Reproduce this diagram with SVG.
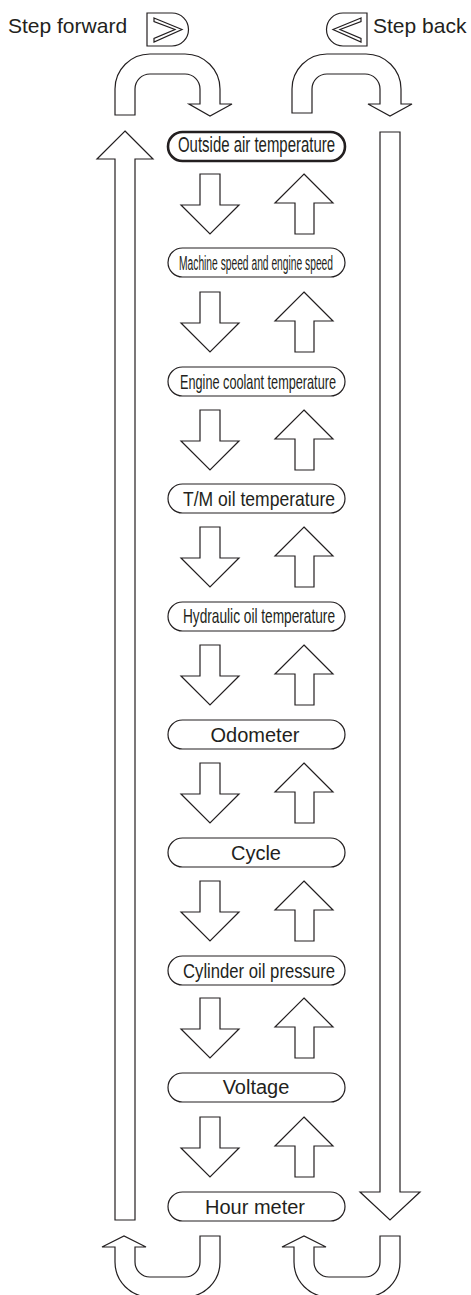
<svg xmlns="http://www.w3.org/2000/svg" xmlns:xlink="http://www.w3.org/1999/xlink" width="471" height="1295" viewBox="0 0 471 1295">
<style>
.ln{fill:#fff;stroke:#231f20;stroke-width:1.2;stroke-linejoin:miter}
.pill{fill:#fff;stroke:#231f20;stroke-width:1.2}
.bold{stroke-width:2.6}
.t{font-family:"Liberation Sans",Arial,sans-serif;fill:#231f20;text-anchor:middle}
.lbl{font-family:"Liberation Sans",Arial,sans-serif;fill:#231f20;font-size:21px}
</style>
<defs>
<path id="dn" d="M200,0 L220,0 L220,31 L239,31 L210,60 L181,31 L200,31 Z"/>
<path id="up" d="M304,0 L333,29 L314,29 L314,60 L295,60 L295,29 L275,29 Z"/>
</defs>
<rect width="471" height="1295" fill="#fff"/>

<g id="step-forward">
<text class="lbl" x="8" y="33">Step forward</text>
<path class="ln" d="M147,13 L172,13 A16.5,16.5 0 0 1 172,46 L147,46 Z"/>
<polygon class="ln" points="154,18 182,29.5 154,42 154,38.5 175,29.5 154,21.5"/>
</g>
<g id="step-back">
<text class="lbl" x="373" y="33">Step back</text>
<path class="ln" d="M367,13 L343,13 A16.5,16.5 0 0 0 343,46 L367,46 Z"/>
<polygon class="ln" points="361,18 333,29.5 361,42 361,38.5 340,29.5 361,21.5"/>
</g>

<g id="connectors">
<path class="ln" d="M115,115 L115,89 A35,35 0 0 1 150,54 L185,54 A35,35 0 0 1 220,89 L220,104 L232,104 L210,116 L189,104 L200,104 L200,89 A15,15 0 0 0 185,74 L150,74 A15,15 0 0 0 135,89 L135,115 Z"/>
<path class="ln" d="M292,113 L292,89 A35,35 0 0 1 327,54 L366,54 A35,35 0 0 1 401,89 L401,104 L412,104 L390,116 L368,104 L380,104 L380,89 A15,15 0 0 0 365,74 L327,74 A15,15 0 0 0 312,89 L312,113 Z"/>
<path class="ln" d="M125,131 L153,159 L135,159 L135,1220 L115,1220 L115,159 L97,159 Z"/>
<path class="ln" d="M380,132 L400,132 L400,1192 L420,1192 L390,1220 L360,1192 L380,1192 Z"/>
<path class="ln" d="M220,1236 L220,1262 A35,35 0 0 1 185,1297 L150,1297 A35,35 0 0 1 115,1262 L115,1247 L102,1247 L124,1236 L146,1247 L135,1247 L135,1262 A15,15 0 0 0 150,1277 L185,1277 A15,15 0 0 0 200,1262 L200,1236 Z"/>
<path class="ln" d="M400,1236 L400,1262 A35,35 0 0 1 365,1297 L329,1297 A35,35 0 0 1 294,1262 L294,1247 L282,1247 L304,1236 L326,1247 L314,1247 L314,1262 A15,15 0 0 0 329,1277 L365,1277 A15,15 0 0 0 380,1262 L380,1236 Z"/>
<use href="#dn" xlink:href="#dn" class="ln" y="174"/><use href="#up" xlink:href="#up" class="ln" y="174"/>
<use href="#dn" xlink:href="#dn" class="ln" y="292"/><use href="#up" xlink:href="#up" class="ln" y="292"/>
<use href="#dn" xlink:href="#dn" class="ln" y="410"/><use href="#up" xlink:href="#up" class="ln" y="410"/>
<use href="#dn" xlink:href="#dn" class="ln" y="527"/><use href="#up" xlink:href="#up" class="ln" y="527"/>
<use href="#dn" xlink:href="#dn" class="ln" y="645"/><use href="#up" xlink:href="#up" class="ln" y="645"/>
<use href="#dn" xlink:href="#dn" class="ln" y="763"/><use href="#up" xlink:href="#up" class="ln" y="763"/>
<use href="#dn" xlink:href="#dn" class="ln" y="881"/><use href="#up" xlink:href="#up" class="ln" y="881"/>
<use href="#dn" xlink:href="#dn" class="ln" y="998"/><use href="#up" xlink:href="#up" class="ln" y="998"/>
<use href="#dn" xlink:href="#dn" class="ln" y="1117"/><use href="#up" xlink:href="#up" class="ln" y="1117"/>
</g>

<g id="n-outside">
<rect class="pill bold" x="168" y="132" width="177" height="29" rx="14.5"/>
<text class="t" x="256.5" y="152" font-size="22" textLength="157" lengthAdjust="spacingAndGlyphs">Outside air temperature</text>
</g>
<g id="n-machine">
<rect class="pill" x="168" y="248" width="177" height="29" rx="14.5"/>
<text class="t" x="256" y="270" font-size="20" textLength="154" lengthAdjust="spacingAndGlyphs">Machine speed and engine speed</text>
</g>
<g id="n-coolant">
<rect class="pill" x="168" y="367" width="177" height="29" rx="14.5"/>
<text class="t" x="258" y="389" font-size="21" textLength="156" lengthAdjust="spacingAndGlyphs">Engine coolant temperature</text>
</g>
<g id="n-tm">
<rect class="pill" x="168" y="484" width="177" height="29" rx="14.5"/>
<text class="t" x="259" y="506" font-size="21" textLength="152" lengthAdjust="spacingAndGlyphs">T/M oil temperature</text>
</g>
<g id="n-hydraulic">
<rect class="pill" x="168" y="602" width="177" height="29" rx="14.5"/>
<text class="t" x="259" y="623" font-size="21" textLength="152" lengthAdjust="spacingAndGlyphs">Hydraulic oil temperature</text>
</g>
<g id="n-odometer">
<rect class="pill" x="168" y="720" width="177" height="29" rx="14.5"/>
<text class="t" x="255" y="742" font-size="20">Odometer</text>
</g>
<g id="n-cycle">
<rect class="pill" x="168" y="838" width="177" height="29" rx="14.5"/>
<text class="t" x="256" y="860" font-size="20">Cycle</text>
</g>
<g id="n-cylinder">
<rect class="pill" x="168" y="956" width="177" height="29" rx="14.5"/>
<text class="t" x="259" y="977.5" font-size="21" textLength="152" lengthAdjust="spacingAndGlyphs">Cylinder oil pressure</text>
</g>
<g id="n-voltage">
<rect class="pill" x="168" y="1073" width="177" height="29" rx="14.5"/>
<text class="t" x="256" y="1094" font-size="20">Voltage</text>
</g>
<g id="n-hour">
<rect class="pill" x="168" y="1192" width="177" height="29" rx="14.5"/>
<text class="t" x="255" y="1213.5" font-size="20">Hour meter</text>
</g>
</svg>
